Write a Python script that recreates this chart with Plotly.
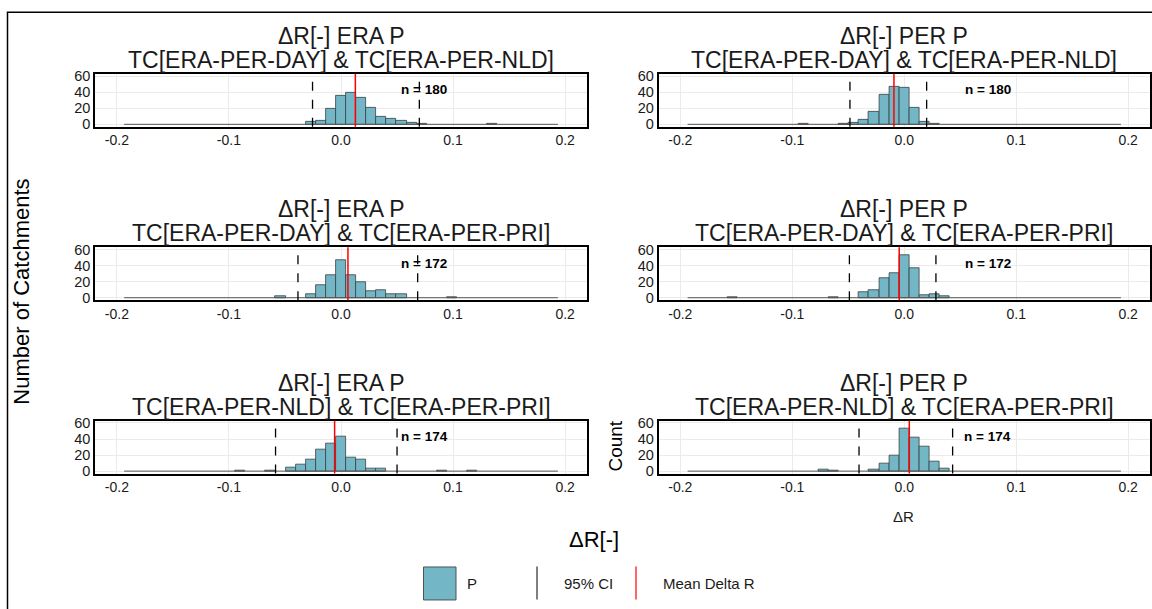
import plotly.graph_objects as go

# ---- data -------------------------------------------------------------
BIN_WIDTH = 0.009
BIN_EDGE_LIMIT = 0.1935  # outer edge of the histogram bins

panel_titles = [
    ("ΔR[-] ERA P", "TC[ERA-PER-DAY] & TC[ERA-PER-NLD]"),
    ("ΔR[-] PER P", "TC[ERA-PER-DAY] & TC[ERA-PER-NLD]"),
    ("ΔR[-] ERA P", "TC[ERA-PER-DAY] & TC[ERA-PER-PRI]"),
    ("ΔR[-] PER P", "TC[ERA-PER-DAY] & TC[ERA-PER-PRI]"),
    ("ΔR[-] ERA P", "TC[ERA-PER-NLD] & TC[ERA-PER-PRI]"),
    ("ΔR[-] PER P", "TC[ERA-PER-NLD] & TC[ERA-PER-PRI]"),
]
n_catchments = [180, 180, 172, 172, 174, 174]

# bin centres (ΔR) and catchment counts per panel
era_day_nld_x = [-0.027, -0.018, -0.009, 0.0, 0.009, 0.018, 0.027, 0.036, 0.045, 0.054, 0.063, 0.072, 0.135]
era_day_nld_n = [3, 4, 20, 36, 39, 33, 21, 9, 7, 4, 2, 1, 1]

per_day_nld_x = [-0.090, -0.054, -0.045, -0.036, -0.027, -0.018, -0.009, 0.0, 0.009, 0.018, 0.027]
per_day_nld_n = [1, 1, 2, 6, 16, 37, 47, 45, 21, 3, 1]

era_day_pri_x = [-0.054, -0.027, -0.018, -0.009, 0.0, 0.009, 0.018, 0.027, 0.036, 0.045, 0.054, 0.099]
era_day_pri_n = [2, 4, 16, 28, 47, 28, 19, 8, 10, 5, 4, 1]

per_day_pri_x = [-0.153, -0.063, -0.036, -0.027, -0.018, -0.009, 0.0, 0.009, 0.018, 0.027, 0.036]
per_day_pri_n = [1, 1, 7, 9, 24, 31, 53, 37, 3, 4, 2]

era_nld_pri_x = [-0.090, -0.063, -0.045, -0.036, -0.027, -0.018, -0.009, 0.0, 0.009, 0.018, 0.027, 0.036, 0.090, 0.117]
era_nld_pri_n = [1, 1, 5, 8, 15, 27, 34, 43, 17, 15, 3, 3, 1, 1]

per_nld_pri_x = [-0.072, -0.063, -0.027, -0.018, -0.009, 0.0, 0.009, 0.018, 0.027, 0.036]
per_nld_pri_n = [2, 1, 2, 10, 19, 53, 42, 30, 12, 3]

hist_x = [era_day_nld_x, per_day_nld_x, era_day_pri_x, per_day_pri_x, era_nld_pri_x, per_nld_pri_x]
hist_n = [era_day_nld_n, per_day_nld_n, era_day_pri_n, per_day_pri_n, era_nld_pri_n, per_nld_pri_n]

mean_delta_r = [0.0128, -0.0092, 0.0062, -0.0045, -0.0057, 0.0045]
ci_low = [-0.0254, -0.0485, -0.0384, -0.0490, -0.0584, -0.0404]
ci_high = [0.0699, 0.0200, 0.0684, 0.0283, 0.0500, 0.0432]

x_ticks = [-0.2, -0.1, 0.0, 0.1, 0.2]
x_tick_text = ["-0.2", "-0.1", "0.0", "0.1", "0.2"]
y_ticks = [0, 20, 40, 60]

# ---- styling ------------------------------------------------------------
W, H = 1152, 609
FONT = "Liberation Sans, Arial, sans-serif"
FILL = "#73B7C6"
OUTLINE = "#3a3f42"
GRID = "#ebebeb"
TEXT = "#1a1a1a"

# vertical layout grid of the page (the rendered plot area is inset a little)
Y_OFFSET, Y_SCALE = 5.2, 0.9825


def px(x):
    return x / W


def py(y):
    return 1 - ((y - Y_OFFSET) / Y_SCALE) / H


def label(x, y, text, size, **kw):
    d = dict(x=px(x), y=py(y), xref="paper", yref="paper", text=text,
             showarrow=False, xanchor="center", yanchor="middle",
             font=dict(family=FONT, size=size, color=kw.pop("color", TEXT)))
    d.update(kw)
    return d


col_left = [95, 658.5]
col_right = [587, 1150]
row_top = [74, 247.5, 421]
row_h = 53
row_step = 173.5

fig = go.Figure()
annotations = []
shapes = []
layout_axes = {}

for i in range(6):
    r, c = divmod(i, 2)
    ax = "" if i == 0 else str(i + 1)
    xname, yname = "x" + ax, "y" + ax
    top = row_top[r]
    bottom = top + row_h

    layout_axes["xaxis" + ax] = dict(
        domain=[px(col_left[c]), px(col_right[c])],
        anchor=yname,
        range=[-0.2195, 0.2195],
        tickvals=x_ticks,
        ticktext=x_tick_text,
        showgrid=True, gridcolor=GRID, gridwidth=1,
        zeroline=False,
        showline=True, linecolor="black", linewidth=1.5, mirror=True,
        ticks="",
        tickfont=dict(family=FONT, size=14, color=TEXT),
    )
    layout_axes["yaxis" + ax] = dict(
        domain=[py(bottom), py(top)],
        anchor=xname,
        range=[-3, 63],
        tickvals=y_ticks,
        showgrid=True, gridcolor=GRID, gridwidth=1,
        zeroline=False,
        showline=True, linecolor="black", linewidth=1.5, mirror=True,
        ticks="",
        tickfont=dict(family=FONT, size=14.5, color=TEXT),
    )

    # empty bins drawn as a flat outline along zero
    fig.add_trace(go.Scatter(
        x=[-BIN_EDGE_LIMIT, BIN_EDGE_LIMIT], y=[0, 0], mode="lines",
        line=dict(color="#555555", width=1), xaxis=xname, yaxis=yname,
        showlegend=False, hoverinfo="skip",
    ))
    fig.add_trace(go.Bar(
        x=hist_x[i], y=hist_n[i], width=BIN_WIDTH,
        marker=dict(color=FILL, line=dict(color=OUTLINE, width=0.8)),
        xaxis=xname, yaxis=yname, showlegend=False,
    ))

    for v in (ci_low[i], ci_high[i]):
        shapes.append(dict(type="line", xref=xname, yref=yname + " domain",
                           x0=v, x1=v, y0=0, y1=1,
                           line=dict(color="black", width=1.3, dash="dash")))
    shapes.append(dict(type="line", xref=xname, yref=yname + " domain",
                       x0=mean_delta_r[i], x1=mean_delta_r[i], y0=0, y1=1,
                       line=dict(color="red", width=1.5)))

    annotations.append(dict(x=0.0745, y=43, xref=xname, yref=yname,
                            text="<b>n = %d</b>" % n_catchments[i], showarrow=False,
                            xanchor="center", yanchor="middle",
                            font=dict(family=FONT, size=13.5, color="black")))

    cx = (col_left[c] + col_right[c]) / 2
    t1, t2 = panel_titles[i]
    annotations.append(label(cx, 36 + r * row_step, t1, 23))
    annotations.append(label(cx, 60 + r * row_step, t2, 23))

# shared and panel-level axis titles
annotations += [
    label(22, 292, "Number of Catchments", 22, textangle=-90, color="black"),
    label(594, 540, "ΔR[-]", 22, color="black"),
    label(616, 447, "Count", 19, textangle=-90, color="black"),
    label(903, 517, "ΔR", 15),
]

# legend row
annotations += [
    dict(label(465, 584, "P", 15), xanchor="left"),
    dict(label(562, 584, "95% CI", 15), xanchor="left"),
    dict(label(661, 584, "Mean Delta R", 15), xanchor="left"),
]
shapes += [
    dict(type="rect", xref="paper", yref="paper", x0=px(423.5), x1=px(456), y0=py(600.5), y1=py(567.5),
         fillcolor=FILL, line=dict(color="#4a5356", width=1)),
    dict(type="line", xref="paper", yref="paper", x0=px(537), x1=px(537), y0=py(600), y1=py(567),
         line=dict(color="#555555", width=1.5)),
    dict(type="line", xref="paper", yref="paper", x0=px(636), x1=px(636), y0=py(600), y1=py(567),
         line=dict(color="red", width=1.2)),
    # outer frame around the whole figure
    dict(type="rect", xref="paper", yref="paper", x0=px(7.5), x1=1.02, y0=-0.03, y1=py(12.5),
         line=dict(color="black", width=1.5), fillcolor="rgba(0,0,0,0)"),
]

fig.update_layout(
    width=W, height=H,
    margin=dict(l=0, r=0, t=0, b=0),
    paper_bgcolor="white", plot_bgcolor="white",
    showlegend=False, bargap=0,
    annotations=annotations, shapes=shapes,
    **layout_axes,
)

fig.write_html("out.html")
